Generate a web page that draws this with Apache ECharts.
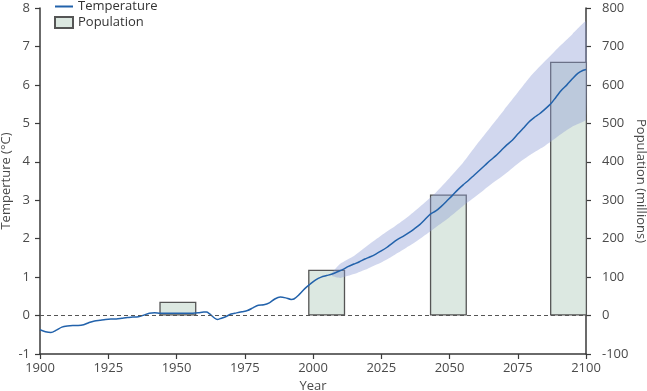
<!DOCTYPE html>
<html>
<head>
<meta charset="utf-8">
<script src="https://cdn.jsdelivr.net/npm/echarts@6/dist/echarts.min.js"></script>
<style>html,body{margin:0;padding:0;background:#fff}#c{width:647px;height:391px}</style>
</head>
<body>
<div id="c"></div>
<script>
// Temperature (°C) line
const tempYears = [1900,1902,1904,1906,1908,1910,1912,1914,1916,1918,1920,1922,1924,1926,1928,1930,1932,1934,1936,1938,1940,1942,1944,1946,1948,1950,1952,1954,1956,1958,1960,1961,1962,1964,1965,1966,1968,1970,1972,1974,1976,1978,1980,1982,1984,1986,1988,1990,1992,1993,1995,1997,1999,2001,2003,2005,2007,2009,2011,2013,2015,2017,2019,2021,2023,2025,2027,2029,2031,2033,2035,2037,2039,2041,2043,2045,2047,2049,2051,2053,2055,2057,2059,2061,2063,2065,2067,2069,2071,2073,2075,2077,2079,2081,2083,2085,2087,2089,2091,2093,2095,2097,2099,2100];
const tempValues = [-0.37,-0.42,-0.44,-0.38,-0.30,-0.27,-0.26,-0.26,-0.24,-0.18,-0.14,-0.12,-0.10,-0.09,-0.09,-0.07,-0.05,-0.04,-0.03,0.01,0.06,0.07,0.06,0.06,0.06,0.06,0.06,0.06,0.06,0.07,0.09,0.09,0.05,-0.07,-0.10,-0.08,-0.03,0.04,0.07,0.10,0.13,0.20,0.27,0.28,0.33,0.43,0.48,0.46,0.42,0.43,0.55,0.70,0.82,0.93,1.00,1.04,1.08,1.14,1.20,1.28,1.34,1.40,1.47,1.53,1.60,1.68,1.77,1.88,1.98,2.06,2.15,2.25,2.36,2.50,2.64,2.72,2.84,2.98,3.12,3.27,3.40,3.52,3.65,3.78,3.91,4.04,4.16,4.30,4.44,4.56,4.72,4.87,5.03,5.15,5.25,5.37,5.50,5.68,5.86,6.00,6.16,6.30,6.38,6.40];

// Uncertainty band
const bandYears = [2007,2010,2015,2020,2025,2030,2035,2040,2045,2050,2055,2060,2065,2070,2075,2080,2085,2090,2095,2100];
const bandLower = [1.03,0.98,1.08,1.22,1.38,1.58,1.80,2.04,2.30,2.56,2.85,3.12,3.40,3.66,3.95,4.20,4.42,4.68,4.92,5.10];
const bandUpper = [1.12,1.35,1.55,1.82,2.08,2.32,2.58,2.88,3.20,3.58,3.98,4.45,4.90,5.35,5.80,6.25,6.62,6.98,7.32,7.65];

// Population (millions) bars
const popYears = [1950.5, 2005, 2049.6, 2093.6];
const popValues = [36, 119, 315, 660];

// Axes
const tempTicks = {min: -1, max: 8, interval: 1};
const popTicks = {min: -100, max: 800, interval: 100};
const yearTicks = {min: 1900, max: 2100, interval: 25};

const FONT = 'Open Sans';
const axisCol = '#3a3a3a';
const labelCol = '#4a4a4a';

function renderBand(params, api) {
  if (params.dataIndex !== 0) return null;
  const upper = bandYears.map((y, i) => api.coord([y, bandUpper[i]]));
  const lower = bandYears.map((y, i) => api.coord([y, bandLower[i]])).reverse();
  return {
    type: 'polygon',
    shape: {points: upper.concat(lower), smooth: 0.12},
    style: {fill: 'rgba(140,155,212,0.40)'},
    silent: true
  };
}

const chart = echarts.init(document.getElementById('c'), null, {renderer: 'canvas'});
chart.setOption({
  animation: false,
  backgroundColor: '#fff',
  textStyle: {fontFamily: FONT},
  grid: {left: 40, right: 61, top: 8, bottom: 37, containLabel: false, outerBoundsMode: 'none'},
  legend: {
    data: [{name: 'Temperature', itemStyle: {opacity: 0}}, {name: 'Population', icon: 'rect'}],
    orient: 'vertical', left: 54, top: 0, itemWidth: 18, itemHeight: 11, itemGap: 3,
    textStyle: {fontFamily: FONT, fontSize: 13, color: '#333'},
    padding: 0
  },
  xAxis: {
    type: 'value', min: yearTicks.min, max: yearTicks.max, interval: yearTicks.interval,
    name: 'Year', nameLocation: 'middle', nameGap: 22,
    nameTextStyle: {fontFamily: FONT, fontSize: 13, color: labelCol},
    axisLine: {onZero: false, lineStyle: {color: axisCol, width: 1.5}},
    axisTick: {show: true, length: 5, lineStyle: {color: axisCol, width: 1.2}},
    axisLabel: {fontFamily: FONT, fontSize: 13, color: labelCol, margin: 8, formatter: v => String(v)},
    splitLine: {show: false}
  },
  yAxis: [{
    type: 'value', min: tempTicks.min, max: tempTicks.max, interval: tempTicks.interval,
    name: 'Temperture (°C)', nameLocation: 'middle', nameGap: 27, nameRotate: 90, nameMoveOverlap: false,
    nameTextStyle: {fontFamily: FONT, fontSize: 13, color: labelCol},
    axisLine: {show: true, onZero: false, lineStyle: {color: axisCol, width: 1.5}},
    axisTick: {show: true, length: 5, lineStyle: {color: axisCol, width: 1.2}},
    axisLabel: {fontFamily: FONT, fontSize: 13, color: labelCol, margin: 10},
    splitLine: {show: false}
  }, {
    type: 'value', position: 'right', min: popTicks.min, max: popTicks.max, interval: popTicks.interval,
    name: 'Population (millions)', nameLocation: 'middle', nameGap: 48, nameRotate: -90, nameMoveOverlap: false,
    nameTextStyle: {fontFamily: FONT, fontSize: 13, color: labelCol},
    axisLine: {show: true, onZero: false, lineStyle: {color: axisCol, width: 1.5}},
    axisTick: {show: true, length: 5, lineStyle: {color: axisCol, width: 1.2}},
    axisLabel: {fontFamily: FONT, fontSize: 13, color: labelCol, margin: 16},
    splitLine: {show: false}
  }],
  series: [
    {
      name: 'Population', type: 'bar', xAxisIndex: 0, yAxisIndex: 1, barWidth: 37, z: 1,
      data: popYears.map((y, i) => [y, popValues[i]]),
      itemStyle: {color: '#dce8e1', borderColor: '#555', borderWidth: 1.3}
    },
    {
      name: 'Band', type: 'custom', xAxisIndex: 0, yAxisIndex: 0, z: 2, silent: true,
      renderItem: renderBand,
      data: bandYears.map((y, i) => [y, bandLower[i], bandUpper[i]]),
      encode: {x: 0, y: [1, 2]}
    },
    {
      name: 'Temperature', type: 'line', yAxisIndex: 0, smooth: 0.3, symbol: 'none', z: 4,
      lineStyle: {color: '#2262ab', width: 1.5}, itemStyle: {color: '#2262ab'},
      data: tempYears.map((y, i) => [y, tempValues[i]]),
      markLine: {
        silent: true, symbol: 'none', label: {show: false},
        lineStyle: {color: '#555', type: [4, 3], width: 1},
        data: [{yAxis: 0}]
      }
    }
  ]
});
</script>
</body>
</html>
